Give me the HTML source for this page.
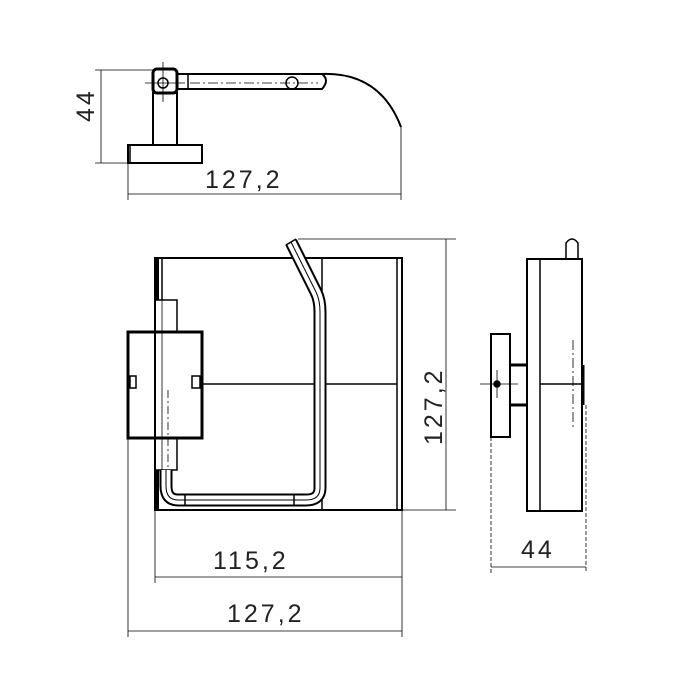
<!DOCTYPE html>
<html><head><style>body{margin:0;background:#fff}svg{display:block}text{font-family:"Liberation Sans",sans-serif;font-size:25px;fill:#222;letter-spacing:3px}</style></head>
<body>
<svg width="700" height="700" viewBox="0 0 700 700" xmlns="http://www.w3.org/2000/svg" fill="none" stroke="#000" stroke-width="1.5">
<!-- TOP VIEW -->
<rect x="153" y="69" width="24" height="24" rx="4" stroke-width="3"/>
<circle cx="163" cy="83" r="5"/>
<line x1="163" y1="62" x2="163" y2="102" stroke-width="0.8"/>
<line x1="145" y1="83" x2="185" y2="83" stroke-width="0.8"/>
<rect x="153" y="93" width="24" height="52" stroke-width="2"/>
<rect x="128" y="145" width="74" height="18" stroke-width="2"/>
<line x1="130" y1="145" x2="130" y2="163"/>
<path d="M177 74 H322 Q330 80 322 89 H177" stroke-width="2"/>
<line x1="188" y1="74" x2="188" y2="89"/>
<line x1="190" y1="83" x2="318" y2="83" stroke-dasharray="10,3,2,3" stroke-width="0.8"/>
<circle cx="292" cy="83" r="6"/>
<path d="M322 74 Q380 72 401 127" stroke-width="2"/>
<line x1="401" y1="127" x2="401" y2="200" stroke-width="0.8"/>
<line x1="128" y1="163" x2="128" y2="200" stroke-width="0.8"/>
<line x1="128" y1="194" x2="401" y2="194" stroke-width="0.8"/>
<line x1="95" y1="70" x2="153" y2="70" stroke-width="0.8"/>
<line x1="95" y1="163" x2="128" y2="163" stroke-width="0.8"/>
<line x1="101" y1="70" x2="101" y2="163" stroke-width="0.8"/>
<text x="205" y="188" stroke="none">127,2</text>
<text transform="translate(94,122) rotate(-90)" stroke="none">44</text>

<!-- FRONT VIEW -->
<rect x="155" y="258" width="247" height="252" stroke-width="2"/>
<line x1="157" y1="258" x2="157" y2="300" stroke-width="4"/>
<line x1="157" y1="470" x2="157" y2="510" stroke-width="4"/>
<line x1="162" y1="258" x2="162" y2="300"/>
<line x1="322" y1="258" x2="322" y2="510"/>
<line x1="397" y1="258" x2="397" y2="510"/>
<line x1="202" y1="384" x2="397" y2="384"/>
<rect x="155" y="300" width="22" height="32"/>
<rect x="155" y="438" width="22" height="32"/>
<rect x="128" y="332" width="74" height="106" stroke-width="3"/>
<line x1="162" y1="300" x2="162" y2="470" stroke-width="0.8"/>
<rect x="130" y="376" width="6" height="12"/>
<rect x="192" y="376" width="8" height="12"/>
<line x1="168" y1="390" x2="168" y2="475" stroke-dasharray="8,3,2,3" stroke-width="0.8"/>
<path d="M291 242 L316 292 Q320 300 320 312 V488 Q320 500 306 500 H178 Q166 500 166 486 V470" stroke-width="13" stroke-linejoin="round"/>
<path d="M291 242 L316 292 Q320 300 320 312 V488 Q320 500 306 500 H178 Q166 500 166 486 V470" stroke="#fff" stroke-width="9" stroke-linejoin="round"/>
<path d="M291 242 L316 292 Q320 300 320 312 V488 Q320 500 306 500 H178 Q166 500 166 486 V470" stroke-width="1"/>
<line x1="286" y1="245" x2="296" y2="239" stroke-width="1.5"/>
<line x1="185" y1="494" x2="185" y2="506"/>
<line x1="294" y1="494" x2="294" y2="506"/>
<!-- dims front -->
<line x1="298" y1="239" x2="456" y2="239" stroke-width="0.8"/>
<line x1="402" y1="510" x2="456" y2="510" stroke-width="0.8"/>
<line x1="446" y1="239" x2="446" y2="510" stroke-width="0.8"/>
<text transform="translate(442,445) rotate(-90)" stroke="none">127,2</text>
<line x1="155" y1="510" x2="155" y2="583" stroke-width="0.8"/>
<line x1="402" y1="510" x2="402" y2="637" stroke-width="0.8"/>
<line x1="128" y1="438" x2="128" y2="637" stroke-width="0.8"/>
<line x1="155" y1="577" x2="402" y2="577" stroke-width="0.8"/>
<line x1="128" y1="631" x2="402" y2="631" stroke-width="0.8"/>
<text x="213" y="569" stroke="none">115,2</text>
<text x="227" y="622" stroke="none">127,2</text>

<!-- SIDE VIEW -->
<rect x="527" y="259" width="55" height="252" stroke-width="2"/>
<line x1="540" y1="259" x2="540" y2="511"/>
<path d="M566 259 V243 Q572 235 578 243 V259" stroke-width="1.5"/>
<rect x="491" y="334" width="19" height="103" stroke-width="2"/>
<rect x="510" y="365" width="17" height="40"/>
<line x1="510" y1="365" x2="527" y2="365" stroke-width="3"/>
<line x1="510" y1="405" x2="527" y2="405" stroke-width="3"/>
<line x1="540" y1="384" x2="582" y2="384"/>
<line x1="583" y1="365" x2="583" y2="405" stroke-width="3"/>
<line x1="573" y1="340" x2="573" y2="430" stroke-dasharray="10,3,2,3" stroke-width="0.8"/>
<circle cx="497" cy="384" r="3" fill="#000"/>
<line x1="480" y1="384" x2="518" y2="384" stroke-width="0.8"/>
<line x1="497" y1="370" x2="497" y2="398" stroke-width="0.8"/>
<line x1="491" y1="437" x2="491" y2="573" stroke-width="0.8" stroke-dasharray="4,2"/>
<line x1="586" y1="405" x2="586" y2="573" stroke-width="0.8" stroke-dasharray="4,2"/>
<line x1="491" y1="567" x2="586" y2="567" stroke-width="0.8"/>
<text x="521" y="558" stroke="none">44</text>
</svg>
</body></html>
